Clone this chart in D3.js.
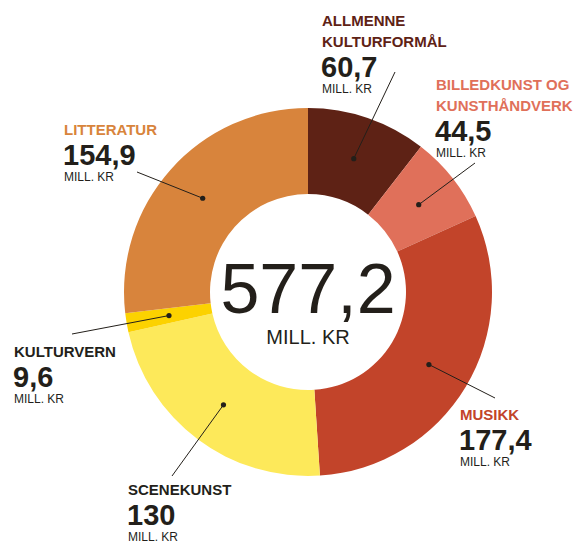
<!DOCTYPE html>
<html>
<head>
<meta charset="utf-8">
<script src="https://cdn.jsdelivr.net/npm/d3@7/dist/d3.min.js"></script>
<style>
  body { margin: 0; background: #fff; }
  svg text { font-family: "Liberation Sans", Arial, sans-serif; }
</style>
</head>
<body>
<svg id="chart" width="575" height="544"></svg>
<script>
// data
var categories = ["ALLMENNE KULTURFORMÅL", "BILLEDKUNST OG KUNSTHÅNDVERK", "MUSIKK", "SCENEKUNST", "KULTURVERN", "LITTERATUR"];
var values = [60.7, 44.5, 177.4, 130, 9.6, 154.9];
var valueLabels = ["60,7", "44,5", "177,4", "130", "9,6", "154,9"];
var totalLabel = "577,2";
var unit = "MILL. KR";

var colors = ["#5e2215", "#e0705a", "#c2442a", "#fde95a", "#fcd200", "#d8843c"];
var titleColors = ["#5e2215", "#e0705a", "#c2442a", "#231f1a", "#231f1a", "#d8843c"];

// label layout: title lines, text x / title baseline, end of leader line
var labelLines = [["ALLMENNE", "KULTURFORMÅL"], ["BILLEDKUNST OG", "KUNSTHÅNDVERK"], ["MUSIKK"], ["SCENEKUNST"], ["KULTURVERN"], ["LITTERATUR"]];
var labelPos = [[322, 26], [436, 90], [460, 420], [128, 495], [14, 357], [64, 135]];
var lineEnd = [[395, 72], [475, 163], [495, 398], [172, 476], [72, 334], [137, 172]];

var width = 575, height = 544;
var cx = 308, cy = 292, outerR = 184, innerR = 98;

var svg = d3.select("#chart");
var g = svg.append("g").attr("transform", "translate(" + cx + "," + cy + ")");

var pie = d3.pie().sort(null).value(function (d) { return d; });
var arc = d3.arc().innerRadius(innerR).outerRadius(outerR);
var arcs = pie(values);

g.selectAll(".slice")
    .data(arcs)
    .enter().append("path")
    .attr("class", "slice")
    .attr("d", arc)
    .attr("fill", function (d, i) { return colors[i]; });

// leader lines and dots
arcs.forEach(function (d, i) {
    var c = arc.centroid(d);
    svg.append("line")
        .attr("x1", cx + c[0]).attr("y1", cy + c[1])
        .attr("x2", lineEnd[i][0]).attr("y2", lineEnd[i][1])
        .attr("stroke", "#231f1a")
        .attr("stroke-width", 1);
    svg.append("circle")
        .attr("cx", cx + c[0]).attr("cy", cy + c[1])
        .attr("r", 2.6)
        .attr("fill", "#231f1a");
});

// labels
categories.forEach(function (cat, i) {
    var x = labelPos[i][0], y = labelPos[i][1];
    var lg = svg.append("g");
    labelLines[i].forEach(function (line, j) {
        lg.append("text")
            .attr("x", x).attr("y", y + j * 21)
            .attr("font-size", "15px")
            .attr("font-weight", "bold")
            .attr("fill", titleColors[i])
            .text(line);
    });
    var yy = y + (labelLines[i].length - 1) * 21;
    lg.append("text")
        .attr("x", x - 1).attr("y", yy + 30)
        .attr("font-size", "29px")
        .attr("font-weight", "bold")
        .attr("fill", "#231f1a")
        .text(valueLabels[i]);
    lg.append("text")
        .attr("x", x).attr("y", yy + 46)
        .attr("font-size", "12px")
        .attr("fill", "#231f1a")
        .text(unit);
});

// center total
svg.append("text")
    .attr("x", cx).attr("y", cy + 21)
    .attr("text-anchor", "middle")
    .attr("font-size", "70px")
    .attr("fill", "#231f1a")
    .text(totalLabel);
svg.append("text")
    .attr("x", cx).attr("y", cy + 52)
    .attr("text-anchor", "middle")
    .attr("font-size", "20px")
    .attr("fill", "#231f1a")
    .text(unit);
</script>
</body>
</html>
